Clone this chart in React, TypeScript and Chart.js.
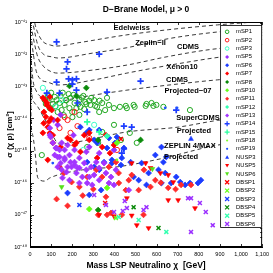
import React, { useEffect, useRef } from 'react';
import { Chart, registerables } from 'chart.js';

Chart.register(...registerables);

type P = [number, number]; // [neutralino mass (GeV), log10 sigma (cm^2)]

const xTickValues = [0, 100, 200, 300, 400, 500, 600, 700, 800, 900, 1000, 1100];
const yTickExponents = [-48, -47, -46, -45, -44, -43, -42, -41];

const titleText = 'D\u2212Brane Model, \u03bc > 0';
const xTitle = 'Mass LSP Neutralino \u03c7  [GeV]';
const yTitle = '\u03c3 (\u03c7 p) [cm\u00b2]';

// ---- experimental limit curves ----
const edelweiss: P[] = [[10, -40.6], [25, -41.1], [37, -41.34], [60, -41.6], [98, -41.72], [122, -41.75], [225, -41.65], [459, -41.4], [655, -41.24], [889, -41.09], [1100, -40.98]];
const zeplinII: P[] = [[10, -40.9], [25, -41.4], [37, -41.72], [60, -41.98], [108, -42.09], [131, -42.12], [304, -41.96], [459, -41.8], [655, -41.52], [889, -41.31], [1100, -41.2]];
const cdms: P[] = [[10, -41.3], [22, -41.7], [37, -42.09], [60, -42.35], [84, -42.49], [131, -42.59], [304, -42.49], [459, -42.34], [650, -42.08], [850, -41.86], [1100, -41.7]];
const xenon10: P[] = [[8, -41.6], [18, -42.1], [28, -42.49], [50, -42.78], [84, -42.87], [131, -42.96], [304, -42.8], [459, -42.59], [700, -42.3], [903, -42.09], [1100, -41.95]];
const cdmsProj07: P[] = [[6, -42.2], [14, -42.8], [30, -43.15], [51, -43.33], [84, -43.49], [140, -43.47], [225, -43.36], [459, -43.12], [700, -42.93], [889, -42.8], [1100, -42.7]];
const superCdmsProj: P[] = [[4, -42.6], [9, -43.27], [20, -43.5], [37, -43.64], [84, -44.2], [140, -44.8], [225, -44.73], [459, -44.42], [702, -44.27], [889, -44.06], [1100, -43.9]];
const zeplinMaxProj: P[] = [[3, -42.5], [5, -44.05], [12, -44.5], [23, -44.98], [37, -45.85], [70, -45.95], [94, -45.85], [248, -45.6], [421, -45.5], [623, -45.25], [889, -44.83], [1100, -44.67]];

const curveLabels: { text: string; mass: number; logSigma: number }[] = [
  { text: 'Edelweiss', mass: 482, logSigma: -41.19 },
  { text: 'Zeplin\u2212II', mass: 571, logSigma: -41.65 },
  { text: 'CDMS', mass: 749, logSigma: -41.78 },
  { text: 'Xenon10', mass: 721, logSigma: -42.4 },
  { text: 'CDMS', mass: 697, logSigma: -42.8 },
  { text: 'Projected\u221207', mass: 749, logSigma: -43.15 },
  { text: 'SuperCDMS', mass: 796, logSigma: -43.99 },
  { text: 'Projected', mass: 777, logSigma: -44.39 },
  { text: 'ZEPLIN 4/MAX', mass: 758, logSigma: -44.86 },
  { text: 'Projected', mass: 716, logSigma: -45.2 },
];

// ---- model points ----
const mSP1: P[] = [[84, -43.27], [117, -43.33], [145, -43.3], [169, -43.43], [140, -43.52], [164, -43.58], [192, -43.36], [211, -43.52], [234, -43.43], [239, -43.64], [262, -43.49], [286, -43.58], [304, -43.43], [318, -43.64], [342, -43.52], [374, -43.58], [398, -43.68], [426, -43.64], [459, -43.68], [187, -43.68], [257, -43.71], [94, -43.68], [94, -43.36], [173, -43.43], [220, -43.68], [267, -43.55], [309, -43.61], [234, -43.89], [356, -43.74], [454, -43.61], [496, -43.64], [548, -43.61], [585, -43.61], [632, -43.64], [758, -43.74], [201, -43.96], [131, -43.8], [150, -43.74], [290, -43.36], [328, -43.8], [398, -44.2], [342, -44.42], [271, -44.89], [473, -44.45], [506, -44.76], [323, -44.76], [431, -44.67], [56, -45.14], [491, -43.58], [552, -43.55], [576, -43.52], [599, -43.58], [70, -43.43], [108, -43.55], [126, -43.43], [206, -43.27], [183, -43.24], [253, -43.3], [365, -43.36], [100, -43.2], [155, -43.2], [230, -43.55], [280, -43.45], [120, -43.62], [200, -43.8], [160, -43.9], [245, -43.35], [330, -43.45], [75, -43.55]];
const mSP2: P[] = [[178, -44.05], [225, -44.24], [192, -44.45], [211, -43.8], [164, -43.96], [281, -44.61], [140, -44.3], [412, -44.98]];
const mSP3: P[] = [[61, -43.05], [122, -43.64], [304, -44.2], [253, -44.98], [150, -43.43]];
const mSP5: P[] = [[145, -43.89], [131, -44.2], [112, -44.05], [281, -44.89], [398, -44.98], [206, -44.52]];
const mSP6: P[] = [[267, -44.45], [328, -44.36], [318, -44.76], [374, -44.61], [412, -44.58], [388, -45.29], [431, -45.45], [477, -45.36], [491, -45.82], [515, -45.92], [552, -46.07], [609, -45.6], [641, -45.7], [632, -45.36], [623, -46.01], [669, -46.01], [712, -45.98], [735, -46.07], [758, -46.01], [796, -46.01], [810, -45.92], [445, -44.92], [562, -45.7], [529, -45.39], [594, -45.14], [623, -44.89], [646, -45.2], [693, -45.82], [239, -44.27], [281, -44.36], [304, -44.67], [365, -44.92], [403, -44.76], [271, -45.36], [304, -45.51], [328, -45.6], [351, -45.36], [388, -45.39], [435, -45.23], [178, -46.32], [281, -46.38], [337, -46.23]];
const mSP7: P[] = [[61, -43.36], [80, -43.52], [94, -43.68], [70, -43.43], [94, -43.33], [80, -43.58], [103, -43.74], [66, -43.8], [84, -44.27], [61, -44.45], [108, -44.52], [131, -44.05], [192, -44.67], [211, -44.83], [145, -44.89], [239, -45.04], [281, -44.45], [140, -45.51], [318, -45.23], [342, -44.89], [379, -45.08], [84, -45.29], [94, -44.45], [108, -44.76], [178, -44.61], [220, -44.76], [257, -44.52], [281, -44.67], [360, -44.52], [398, -44.83], [75, -43.95], [90, -44.1], [65, -44.15], [100, -44.0]];
const mSP8: P[] = [[187, -42.99], [267, -43.05], [220, -43.3], [323, -44.67], [323, -46.85], [524, -44.67]];
const mSP10: P[] = [[412, -44.76], [281, -46.82], [365, -46.16]];
const mSP11: P[] = [[197, -45.98], [234, -46.13], [271, -45.82], [314, -45.6], [342, -45.82], [374, -45.51], [421, -46.01], [454, -46.23], [515, -46.23], [571, -46.13], [594, -45.92], [655, -46.16], [716, -46.07], [763, -46.07], [126, -46.51], [178, -46.72], [365, -47.0], [384, -46.94], [435, -47.0], [538, -47.0], [323, -47.0], [360, -46.44], [468, -45.92], [407, -45.36], [482, -45.76], [160, -45.7], [250, -46.4], [300, -46.2], [540, -45.6], [620, -46.0], [690, -46.2], [420, -45.7]];
const mSP12: P[] = [[365, -44.55]];
const mSP13: P[] = [[94, -44.3], [98, -44.58], [108, -44.76], [122, -44.92], [140, -44.98], [131, -45.2], [164, -45.23], [145, -45.39], [192, -45.36], [211, -45.45], [178, -45.51], [234, -45.54], [94, -44.52], [126, -44.92], [117, -45.14], [140, -45.2], [164, -45.29], [187, -45.14], [211, -45.36], [234, -45.23], [257, -45.39], [197, -45.51], [225, -45.54], [267, -45.6], [290, -45.51], [314, -45.36], [328, -45.54], [351, -45.39], [360, -45.7], [304, -45.76], [281, -45.82], [248, -45.82], [220, -45.7], [173, -45.67], [150, -45.6], [154, -45.85], [187, -45.92], [234, -46.01], [271, -46.01], [328, -45.92], [384, -45.82], [374, -46.01], [407, -45.6], [131, -45.51], [164, -44.98], [211, -44.98], [267, -45.04], [328, -45.08], [150, -44.76], [178, -44.83], [295, -46.07], [398, -46.07], [468, -46.23]];
const mSP14: P[] = [[126, -41.62], [328, -42.0], [178, -42.24], [173, -42.46], [183, -42.77], [201, -42.8], [220, -42.77], [201, -42.93], [126, -42.87], [220, -43.12], [365, -43.18], [524, -42.84], [140, -43.21], [80, -43.21], [693, -43.74], [445, -44.24], [482, -44.27], [445, -44.95], [435, -45.08], [225, -43.52], [271, -43.8]];
const mSP15: P[] = [[328, -44.42], [271, -44.11]];
const mSP18: P[] = [[412, -45.29]];
const mSP19: P[] = [[108, -45.39], [641, -43.67], [697, -43.67]];
const NUSP3: P[] = [[763, -44.64]];
const NUSP5: P[] = [[482, -45.39], [548, -45.39], [571, -45.54], [618, -45.7], [655, -45.76], [679, -45.98], [655, -46.54], [702, -46.54], [782, -46.79], [398, -47.04], [506, -47.32], [562, -47.41], [328, -47.0], [459, -46.48], [482, -47.02]];
const NUSP6: P[] = [[150, -46.13], [580, -45.57]];
const DBSP1: P[] = [[431, -44.64], [356, -46.63]];
const DBSP2: P[] = [[407, -47.1]];
const DBSP3: P[] = [[234, -46.69]];
const DBSP4: P[] = [[491, -46.76], [609, -47.41]];
const DBSP5: P[] = [[515, -47.16], [421, -47.07], [646, -47.53]];
const DBSP6: P[] = [[749, -46.48], [763, -46.48], [805, -46.63], [833, -46.91], [866, -47.32], [763, -47.53], [538, -46.85], [552, -46.76], [440, -46.88], [449, -46.57], [360, -46.69], [459, -46.79], [398, -46.91], [304, -46.38]];

type Kind = 'ocircle' | 'diamond' | 'cross' | 'xcross' | 'dot' | 'triUp' | 'triDown';
const seriesList: { name: string; data: P[]; kind: Kind; color: string }[] = [
  { name: 'mSP1', data: mSP1, kind: 'ocircle', color: '#22a822' },
  { name: 'mSP2', data: mSP2, kind: 'ocircle', color: '#ff1a1a' },
  { name: 'mSP3', data: mSP3, kind: 'ocircle', color: '#3dffc8' },
  { name: 'mSP5', data: mSP5, kind: 'diamond', color: '#9b30ff' },
  { name: 'mSP6', data: mSP6, kind: 'diamond', color: '#1c3cff' },
  { name: 'mSP7', data: mSP7, kind: 'diamond', color: '#ff0000' },
  { name: 'mSP8', data: mSP8, kind: 'diamond', color: '#0a8a0a' },
  { name: 'mSP10', data: mSP10, kind: 'diamond', color: '#66ff1a' },
  { name: 'mSP11', data: mSP11, kind: 'diamond', color: '#ff2b2b' },
  { name: 'mSP12', data: mSP12, kind: 'diamond', color: '#33ffb0' },
  { name: 'mSP13', data: mSP13, kind: 'diamond', color: '#a335ff' },
  { name: 'mSP14', data: mSP14, kind: 'cross', color: '#1c3cff' },
  { name: 'mSP15', data: mSP15, kind: 'cross', color: '#2affa0' },
  { name: 'mSP18', data: mSP18, kind: 'dot', color: '#7fff2a' },
  { name: 'mSP19', data: mSP19, kind: 'dot', color: '#1c50ff' },
  { name: 'NUSP3', data: NUSP3, kind: 'triUp', color: '#1c3cff' },
  { name: 'NUSP5', data: NUSP5, kind: 'triDown', color: '#ff0000' },
  { name: 'NUSP6', data: NUSP6, kind: 'triDown', color: '#55e01a' },
  { name: 'DBSP1', data: DBSP1, kind: 'xcross', color: '#ff0000' },
  { name: 'DBSP2', data: DBSP2, kind: 'xcross', color: '#66ff1a' },
  { name: 'DBSP3', data: DBSP3, kind: 'xcross', color: '#1c3cff' },
  { name: 'DBSP4', data: DBSP4, kind: 'xcross', color: '#0a8a0a' },
  { name: 'DBSP5', data: DBSP5, kind: 'xcross', color: '#33ffb0' },
  { name: 'DBSP6', data: DBSP6, kind: 'xcross', color: '#9b30ff' },
];
const limitCurves: P[][] = [edelweiss, zeplinII, cdms, xenon10, cdmsProj07, superCdmsProj, zeplinMaxProj];

const FONT = '"Liberation Sans", Arial, Helvetica, sans-serif';
const SUP: Record<string, string> = { '-': '\u207b', '0': '\u2070', '1': '\u00b9', '2': '\u00b2', '3': '\u00b3', '4': '\u2074', '5': '\u2075', '6': '\u2076', '7': '\u2077', '8': '\u2078', '9': '\u2079' };
const sup = (n: number) => String(n).split('').map((c) => SUP[c] || c).join('');

function toXY(d: P[]) {
  return d.map(([m, l]) => ({ x: m, y: Math.pow(10, l) }));
}

function pointOpts(kind: Kind, color: string) {
  switch (kind) {
    case 'ocircle':
      return { pointStyle: 'circle', pointRadius: 2.6, pointBorderWidth: 1, pointBorderColor: color, pointBackgroundColor: 'rgba(0,0,0,0)', pointRotation: 0 };
    case 'diamond':
      return { pointStyle: 'rectRot', pointRadius: 2.9, pointBorderWidth: 0.8, pointBorderColor: color, pointBackgroundColor: color, pointRotation: 0 };
    case 'cross':
      return { pointStyle: 'cross', pointRadius: 3.2, pointBorderWidth: 1.7, pointBorderColor: color, pointBackgroundColor: color, pointRotation: 0 };
    case 'xcross':
      return { pointStyle: 'crossRot', pointRadius: 2.8, pointBorderWidth: 1.5, pointBorderColor: color, pointBackgroundColor: color, pointRotation: 0 };
    case 'dot':
      return { pointStyle: 'circle', pointRadius: 1.4, pointBorderWidth: 0, pointBorderColor: color, pointBackgroundColor: color, pointRotation: 0 };
    case 'triUp':
      return { pointStyle: 'triangle', pointRadius: 2.8, pointBorderWidth: 0.6, pointBorderColor: color, pointBackgroundColor: color, pointRotation: 0 };
    case 'triDown':
    default:
      return { pointStyle: 'triangle', pointRadius: 2.8, pointBorderWidth: 0.6, pointBorderColor: color, pointBackgroundColor: color, pointRotation: 180 };
  }
}

function drawMarker(ctx: CanvasRenderingContext2D, kind: Kind, x: number, y: number, color: string) {
  ctx.save();
  ctx.strokeStyle = color;
  ctx.fillStyle = color;
  ctx.lineWidth = 1;
  ctx.beginPath();
  const r = 2;
  switch (kind) {
    case 'ocircle':
      ctx.arc(x, y, 1.8, 0, Math.PI * 2);
      ctx.stroke();
      break;
    case 'diamond':
      ctx.moveTo(x, y - r); ctx.lineTo(x + r, y); ctx.lineTo(x, y + r); ctx.lineTo(x - r, y); ctx.closePath();
      ctx.fill();
      break;
    case 'cross':
      ctx.lineWidth = 1.3;
      ctx.moveTo(x - r - 0.5, y); ctx.lineTo(x + r + 0.5, y); ctx.moveTo(x, y - r - 0.5); ctx.lineTo(x, y + r + 0.5);
      ctx.stroke();
      break;
    case 'xcross':
      ctx.lineWidth = 1.3;
      ctx.moveTo(x - r, y - r); ctx.lineTo(x + r, y + r); ctx.moveTo(x + r, y - r); ctx.lineTo(x - r, y + r);
      ctx.stroke();
      break;
    case 'dot':
      ctx.arc(x, y, 1.1, 0, Math.PI * 2);
      ctx.fill();
      break;
    case 'triUp':
      ctx.moveTo(x, y - r); ctx.lineTo(x + r, y + r * 0.8); ctx.lineTo(x - r, y + r * 0.8); ctx.closePath();
      ctx.fill();
      break;
    case 'triDown':
      ctx.moveTo(x, y + r); ctx.lineTo(x + r, y - r * 0.8); ctx.lineTo(x - r, y - r * 0.8); ctx.closePath();
      ctx.fill();
      break;
  }
  ctx.restore();
}

const decorPlugin = {
  id: 'decor',
  beforeDraw(chart: any) {
    const ctx = chart.ctx as CanvasRenderingContext2D;
    ctx.save();
    ctx.fillStyle = '#fff';
    ctx.fillRect(0, 0, chart.width, chart.height);
    ctx.restore();
  },
  afterDraw(chart: any) {
    const ctx = chart.ctx as CanvasRenderingContext2D;
    const a = chart.chartArea;
    const xs = chart.scales.x;
    const ys = chart.scales.y;
    ctx.save();
    // ticks (inside)
    ctx.strokeStyle = '#000';
    ctx.lineWidth = 0.8;
    ctx.beginPath();
    for (const v of xTickValues) {
      const px = Math.round(xs.getPixelForValue(v)) + 0.5;
      ctx.moveTo(px, a.bottom); ctx.lineTo(px, a.bottom - 3);
      ctx.moveTo(px, a.top); ctx.lineTo(px, a.top + 3);
    }
    for (const e of yTickExponents) {
      const py = Math.round(ys.getPixelForValue(Math.pow(10, e))) + 0.5;
      ctx.moveTo(a.left, py); ctx.lineTo(a.left + 4, py);
      ctx.moveTo(a.right, py); ctx.lineTo(a.right - 4, py);
      if (e < -41) {
        for (let k = 2; k <= 9; k++) {
          const q = Math.round(ys.getPixelForValue(k * Math.pow(10, e))) + 0.5;
          ctx.moveTo(a.left, q); ctx.lineTo(a.left + 2, q);
          ctx.moveTo(a.right, q); ctx.lineTo(a.right - 2, q);
        }
      }
    }
    ctx.stroke();
    ctx.lineWidth = 1;
    ctx.strokeRect(a.left + 0.5, a.top + 0.5, a.right - a.left - 1, a.bottom - a.top - 1);

    // curve labels
    ctx.fillStyle = '#000';
    ctx.font = `bold 7.5px ${FONT}`;
    ctx.textAlign = 'center';
    ctx.textBaseline = 'middle';
    for (const lb of curveLabels) {
      ctx.fillText(lb.text, xs.getPixelForValue(lb.mass), ys.getPixelForValue(Math.pow(10, lb.logSigma)));
    }

    // legend
    const lw = 42;
    const lx = a.right - lw;
    const ly = a.top + 3;
    const lh = 203;
    ctx.fillStyle = '#fff';
    ctx.fillRect(lx, ly, lw, lh);
    ctx.strokeStyle = '#000';
    ctx.lineWidth = 0.8;
    ctx.strokeRect(lx + 0.5, ly + 0.5, lw - 1, lh - 1);
    ctx.font = `5.8px ${FONT}`;
    ctx.textAlign = 'left';
    ctx.textBaseline = 'middle';
    seriesList.forEach((s, i) => {
      const y = ly + 6.8 + i * 8.36;
      drawMarker(ctx, s.kind, lx + 7, y, s.color);
      ctx.fillStyle = '#000';
      ctx.fillText(s.name, lx + 16, y);
    });

    // title and axis titles
    const cx = (a.left + a.right) / 2;
    ctx.fillStyle = '#000';
    ctx.textAlign = 'center';
    ctx.font = `bold 8.5px ${FONT}`;
    ctx.fillText(titleText, cx, 10);
    ctx.font = `bold 8.5px ${FONT}`;
    ctx.fillText(xTitle, cx, chart.height - 7);
    ctx.save();
    ctx.translate(10, (a.top + a.bottom) / 2);
    ctx.rotate(-Math.PI / 2);
    ctx.font = `bold 8px ${FONT}`;
    ctx.fillText(yTitle, 0, 0);
    ctx.restore();
    ctx.restore();
  },
};

export default function App() {
  const ref = useRef<HTMLCanvasElement>(null);
  useEffect(() => {
    const canvas = ref.current;
    if (!canvas) return;
    const datasets: any[] = seriesList.map((s, i) => ({
      label: s.name,
      data: toXY(s.data),
      showLine: false,
      order: 100 - i,
      ...pointOpts(s.kind, s.color),
    }));
    limitCurves.forEach((c, i) => {
      datasets.push({
        label: 'limit' + i,
        data: toXY(c),
        showLine: true,
        pointRadius: 0,
        borderColor: '#222',
        borderWidth: 0.9,
        borderDash: [4, 3],
        cubicInterpolationMode: 'monotone',
        fill: false,
        order: 1000 + i,
      });
    });
    const chart = new Chart(canvas, {
      type: 'scatter',
      data: { datasets },
      options: {
        animation: false,
        responsive: false,
        devicePixelRatio: 1,
        events: [],
        layout: { padding: { top: 22, right: 8, left: 0, bottom: 0 } },
        plugins: { legend: { display: false }, tooltip: { enabled: false }, title: { display: false } },
        scales: {
          x: {
            type: 'linear',
            min: 0,
            max: 1100,
            afterBuildTicks: (s: any) => { s.ticks = xTickValues.map((v) => ({ value: v })); },
            afterFit: (s: any) => { s.height = 26; },
            grid: { display: false, drawTicks: false },
            border: { display: true, color: '#000', width: 1 },
            ticks: { color: '#000', font: { size: 5.5, family: FONT }, padding: 4, maxRotation: 0, autoSkip: false },
          },
          y: {
            type: 'logarithmic',
            min: 1e-48,
            max: 1e-41,
            afterBuildTicks: (s: any) => { s.ticks = yTickExponents.map((e) => ({ value: Math.pow(10, e) })); },
            afterFit: (s: any) => { s.width = 30; },
            grid: { display: false, drawTicks: false },
            border: { display: true, color: '#000', width: 1 },
            ticks: {
              color: '#000',
              font: { size: 5.5, family: FONT },
              padding: 3,
              autoSkip: false,
              callback: (v: any) => '10' + sup(Math.round(Math.log10(Number(v)))),
            },
          },
        },
      },
      plugins: [decorPlugin],
    } as any);
    return () => chart.destroy();
  }, []);
  return (
    <div style={{ position: 'fixed', left: 0, top: 0, width: 273, height: 273, background: '#fff' }}>
      <canvas ref={ref} width={273} height={273} style={{ width: 273, height: 273, display: 'block' }} />
    </div>
  );
}
